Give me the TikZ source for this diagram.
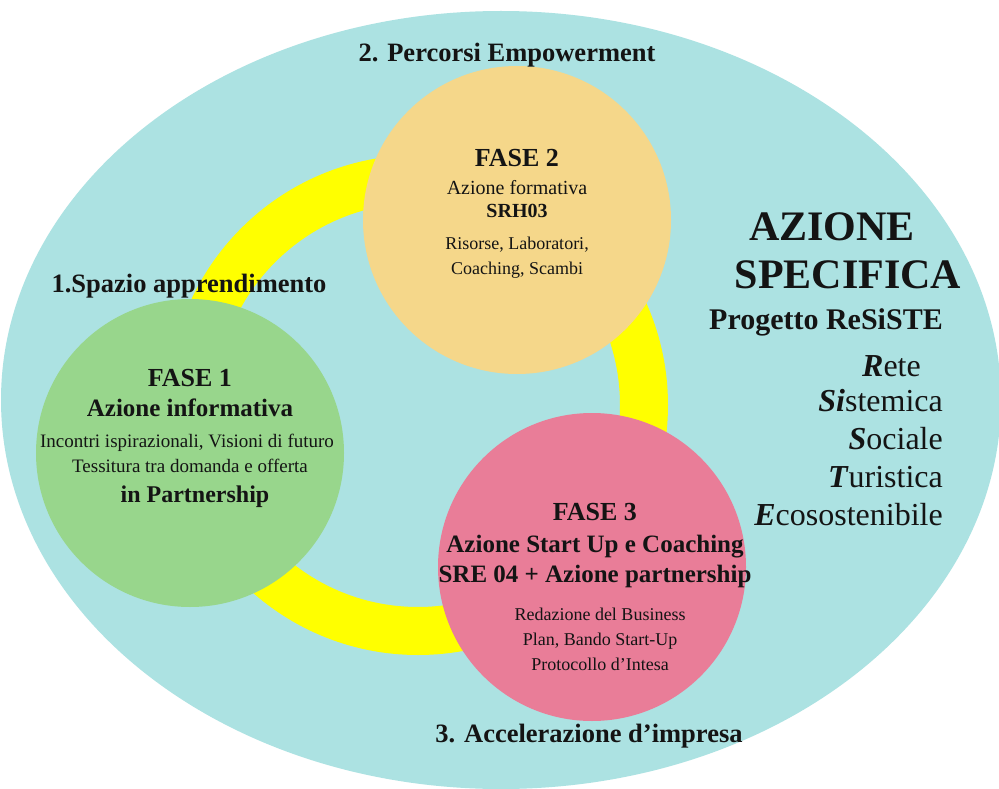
\documentclass[tikz,border=0pt]{standalone}
\usepackage{fontspec}
\setmainfont{Liberation Serif}
\usetikzlibrary{shapes.geometric}

\definecolor{bgteal}{RGB}{172,226,226}
\definecolor{ringyellow}{RGB}{255,255,0}
\definecolor{tanc}{RGB}{245,215,138}
\definecolor{greenc}{RGB}{152,214,140}
\definecolor{pinkc}{RGB}{233,125,152}
\definecolor{inkc}{RGB}{20,20,20}

\newcommand\fsz[1]{\fontsize{#1}{#1}\selectfont}

\begin{document}
\begin{tikzpicture}[x=1pt,y=-1pt,
  phase/.style={circle, inner sep=0pt, minimum size=308pt},
  txt/.style={anchor=base, inner sep=0pt, text=inkc},
  rtxt/.style={anchor=base east, inner sep=0pt, text=inkc}]

\useasboundingbox (0,0) rectangle (999,789);
\fill[white] (0,0) rectangle (999,789);

% background ellipse
\node[ellipse, fill=bgteal, inner sep=0pt, minimum width=1000pt, minimum height=778pt] (bg) at (501,400) {};

% yellow ring
\node[circle, draw=ringyellow, line width=48pt, inner sep=0pt, minimum size=452pt] (ring) at (418,405) {};

% phase circles
\node[phase, fill=greenc] (f1) at (190,453) {};
\node[phase, fill=tanc] (f2) at (517,220) {};
\node[phase, fill=pinkc] (f3) at (592,567) {};

% headings
\node[txt, font=\fsz{26.5}\bfseries] (h2) at (507,62) {2. Percorsi Empowerment};
\node[txt, font=\fsz{26.5}\bfseries] (h1) at (189,292) {1.Spazio apprendimento};
\node[txt, font=\fsz{26.5}\bfseries] (h3) at (589,742) {3. Accelerazione d’impresa};

% FASE 2
\node[txt, font=\fsz{26}\bfseries] (f2a) at (517,167) {FASE 2};
\node[txt, font=\fsz{20}] (f2b) at (517,194) {Azione formativa};
\node[txt, font=\fsz{20}\bfseries] (f2c) at (517,217) {SRH03};
\node[txt, font=\fsz{18}] (f2d) at (517,249) {Risorse, Laboratori,};
\node[txt, font=\fsz{18}] (f2e) at (517,274) {Coaching, Scambi};

% FASE 1
\node[txt, font=\fsz{26}\bfseries] (f1a) at (190,386) {FASE 1};
\node[txt, font=\fsz{25}\bfseries] (f1b) at (190,416) {Azione informativa};
\node[txt, font=\fsz{19}] (f1c) at (187,447) {Incontri ispirazionali, Visioni di futuro};
\node[txt, font=\fsz{19}] (f1d) at (190,472) {Tessitura tra domanda e offerta};
\node[txt, font=\fsz{24}\bfseries] (f1e) at (195,502) {in Partnership};

% FASE 3
\node[txt, font=\fsz{26}\bfseries] (f3a) at (595,520) {FASE 3};
\node[txt, font=\fsz{25}\bfseries] (f3b) at (595,552) {Azione Start Up e Coaching};
\node[txt, font=\fsz{25}\bfseries] (f3c) at (595,582) {SRE 04 + Azione partnership};
\node[txt, font=\fsz{18}] (f3d) at (600,620) {Redazione del Business};
\node[txt, font=\fsz{18}] (f3e) at (600,645) {Plan, Bando Start-Up};
\node[txt, font=\fsz{18}] (f3f) at (600,670) {Protocollo d’Intesa};

% right block
\node[txt, font=\fsz{42}\bfseries] (r1) at (832,240) {AZIONE};
\node[txt, font=\fsz{42}\bfseries] (r2) at (848,288) {SPECIFICA};
\node[txt, font=\fsz{30}\bfseries] (r3) at (826,329) {Progetto ReSiSTE};
\node[rtxt, font=\fsz{32}] (r4) at (921,376) {\textbf{\textit{R}}ete};
\node[rtxt, font=\fsz{32}] (r5) at (943,411) {\textbf{\textit{Si}}stemica};
\node[rtxt, font=\fsz{32}] (r6) at (943,449) {\textbf{\textit{S}}ociale};
\node[rtxt, font=\fsz{32}] (r7) at (943,487) {\textbf{\textit{T}}uristica};
\node[rtxt, font=\fsz{32}] (r8) at (943,525) {\textbf{\textit{E}}cosostenibile};

\end{tikzpicture}
\end{document}
